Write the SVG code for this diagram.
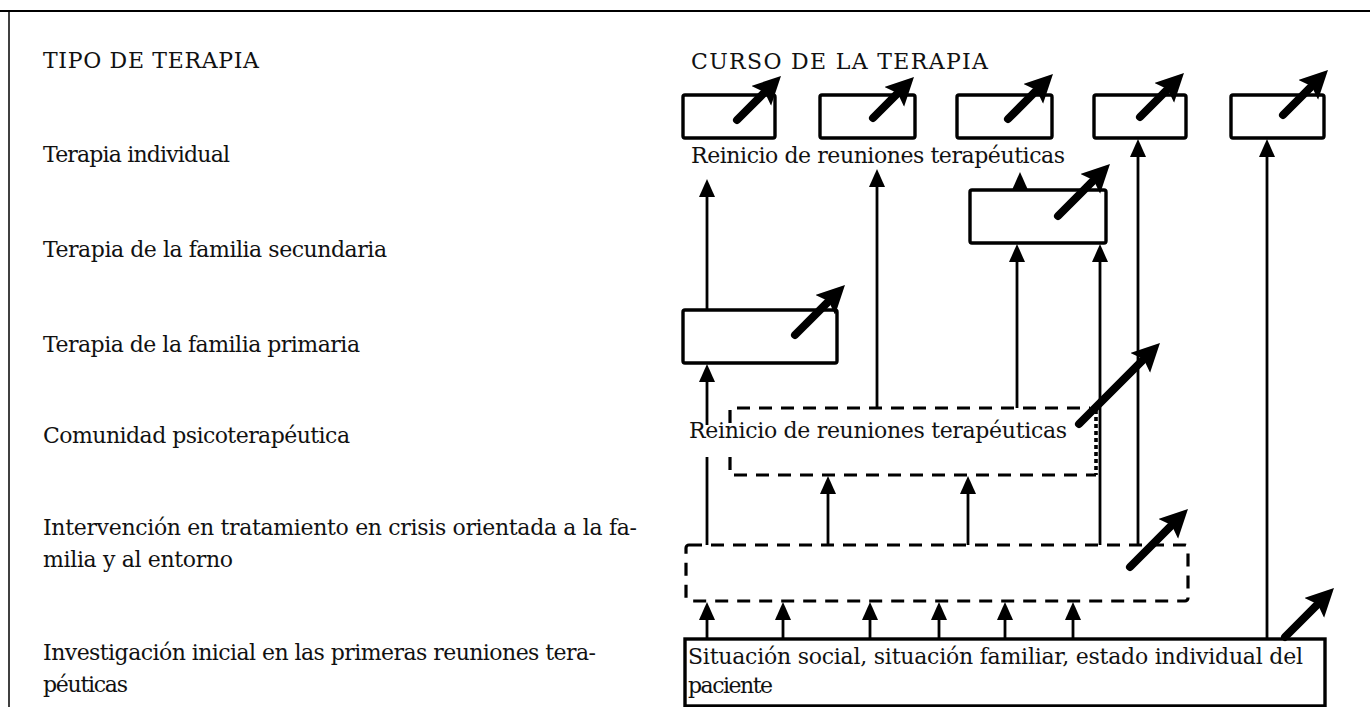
<svg xmlns="http://www.w3.org/2000/svg" width="1370" height="707" viewBox="0 0 1370 707">
<style>
.t{font-family:"DejaVu Serif","Liberation Serif",serif;font-size:22px;fill:#111}
.box{fill:none;stroke:#000;stroke-width:3.4}
.dash{fill:none;stroke:#000;stroke-width:3.2;stroke-dasharray:13 9}
.dot{fill:none;stroke:#000;stroke-width:3.6;stroke-dasharray:4 3}
.ln{fill:none;stroke:#000;stroke-width:2.8;marker-end:url(#vh)}
.plain{fill:none;stroke:#000;stroke-width:2.8}
.da{fill:none;stroke:#000;stroke-width:8;stroke-linecap:round;marker-end:url(#dh)}
.frame{stroke:#000;fill:none}
</style>
<defs>
<marker id="vh" markerUnits="userSpaceOnUse" markerWidth="20" markerHeight="18" refX="1" refY="8" orient="auto"><path d="M0,0 L18,8 L0,16 Z" fill="#000"/></marker>
<marker id="dh" markerUnits="userSpaceOnUse" markerWidth="30" markerHeight="30" refX="3" refY="14" orient="auto"><path d="M0,0 L28,14 L0,28 L5,14 Z" fill="#000"/></marker>
</defs>
<rect width="1370" height="707" fill="#fff"/>
<g id="frame">
<line class="frame" x1="0" y1="11" x2="1370" y2="11" stroke-width="2"/>
<line class="frame" x1="9" y1="11" x2="9" y2="707" stroke-width="1.5" stroke="#444"/>
</g>
<g id="left-labels">
<text class="t" x="43" y="68" textLength="216" lengthAdjust="spacing">TIPO DE TERAPIA</text>
<text class="t" x="43" y="162" textLength="187" lengthAdjust="spacing">Terapia individual</text>
<text class="t" x="43" y="257" textLength="344" lengthAdjust="spacing">Terapia de la familia secundaria</text>
<text class="t" x="43" y="352" textLength="317" lengthAdjust="spacing">Terapia de la familia primaria</text>
<text class="t" x="43" y="443" textLength="307" lengthAdjust="spacing">Comunidad psicoterapéutica</text>
<text class="t" x="43" y="535" textLength="594" lengthAdjust="spacing">Intervención en tratamiento en crisis orientada a la fa-</text>
<text class="t" x="43" y="567" textLength="190" lengthAdjust="spacing">milia y al entorno</text>
<text class="t" x="43" y="660" textLength="553" lengthAdjust="spacing">Investigación inicial en las primeras reuniones tera-</text>
<text class="t" x="43" y="692" textLength="85" lengthAdjust="spacing">péuticas</text>
</g>
<text id="curso-title" class="t" x="691" y="69" textLength="297" lengthAdjust="spacing">CURSO DE LA TERAPIA</text>
<g id="connectors">
<path class="ln" d="M707,639 V619"/>
<path class="ln" d="M783,639 V619"/>
<path class="ln" d="M870,639 V619"/>
<path class="ln" d="M939,639 V619"/>
<path class="ln" d="M1005,639 V619"/>
<path class="ln" d="M1073,639 V619"/>
<path class="ln" d="M828,545 V493"/>
<path class="ln" d="M968,545 V493"/>
<path class="plain" d="M707,545 V457"/>
<path class="ln" d="M707,425 V381"/>
<path class="ln" d="M707,310 V196"/>
<path class="ln" d="M877,408 V186"/>
<path class="ln" d="M1017,408 V261"/>
<path class="ln" d="M1020,191 V189"/>
<path class="ln" d="M1100,545 V261"/>
<path class="ln" d="M1138,545 V156"/>
<path class="ln" d="M1267,639 V156"/>
</g>
<g id="box1">
<rect class="box" x="683" y="95" width="92" height="43" rx="2"/>
<path class="da" d="M737,120 L763.3,93.7"/>
</g>
<g id="box2">
<rect class="box" x="820" y="95" width="95" height="43" rx="2"/>
<path class="da" d="M873,118 L896.3,94.7"/>
</g>
<g id="box3">
<rect class="box" x="957" y="95" width="95" height="43" rx="2"/>
<path class="da" d="M1008,119 L1035.3,91.7"/>
</g>
<g id="box4">
<rect class="box" x="1094" y="95" width="92" height="43" rx="2"/>
<path class="da" d="M1140,117 L1166.3,90.7"/>
</g>
<g id="box5">
<rect class="box" x="1231" y="95" width="93" height="43" rx="2"/>
<path class="da" d="M1283,115 L1310.3,87.7"/>
</g>
<text id="reinicio-1" class="t" x="691" y="163" textLength="374" lengthAdjust="spacing">Reinicio de reuniones terapéuticas</text>
<g id="secundaria">
<rect class="box" x="970" y="190" width="136" height="53" rx="2"/>
<path class="da" d="M1058,216 L1092.3,181.7"/>
</g>
<g id="primaria">
<rect class="box" x="683" y="310" width="154" height="53" rx="2"/>
<path class="da" d="M795,335 L827.3,302.7"/>
</g>
<g id="comunidad">
<path class="dash" d="M730,423 V408 H1090"/>
<path class="dash" d="M730,457 V475 H1096"/>
<path class="dot" d="M1096,410 V475"/>
<text class="t" x="689" y="438" textLength="378" lengthAdjust="spacing">Reinicio de reuniones terapéuticas</text>
<path class="da" d="M1079,424 L1142.3,360.7"/>
</g>
<g id="crisis">
<rect class="dash" x="686" y="545" width="502" height="56" rx="3"/>
<path class="da" d="M1130,567 L1170.3,526.7"/>
</g>
<g id="situacion">
<rect class="box" x="685" y="639" width="640" height="67"/>
<text class="t" x="688" y="664" textLength="615" lengthAdjust="spacing">Situación social, situación familiar, estado individual del</text>
<text class="t" x="688" y="693" textLength="85" lengthAdjust="spacing">paciente</text>
<path class="da" d="M1285,637 L1316.3,605.7"/>
</g>
</svg>
